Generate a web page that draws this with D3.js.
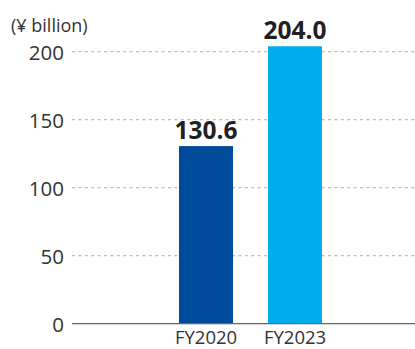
<!DOCTYPE html>
<html><head><meta charset="utf-8">
<script src="https://cdn.jsdelivr.net/npm/d3@7"></script>
<style>body{margin:0;background:#fff}svg{display:block}</style>
</head><body>
<script>
const categories = ["FY2020", "FY2023"];
const values = [130.6, 204.0];
const valueLabels = ["130.6", "204.0"];
const colors = ["#004a9c", "#00acec"];
const yTicks = [0, 50, 100, 150, 200];
const unitLabel = "(¥ billion)";

const W = 415, H = 349;
const svg = d3.select("body").append("svg").attr("width", W).attr("height", H);
const font = "'Open Sans', 'Noto Sans', sans-serif";

const y = d3.scaleLinear().domain([0, 200]).range([323.7, 51.7]);
const x = d3.scaleBand().domain(categories).range([179, 322]).paddingInner(35/89).paddingOuter(0);
const left = 72, right = 415;

// y axis labels
const yAxis = d3.axisLeft(y).tickValues(yTicks).tickSize(0).tickPadding(8);
const gA = svg.append("g").attr("transform", `translate(${left},0)`).call(yAxis);
gA.select(".domain").remove();
gA.selectAll("text").attr("font-family", font).attr("font-size", 20.5).attr("fill", "#333").attr("font-weight", 400).attr("dy", "0.36em");

// grid
svg.append("g").selectAll("line").data(yTicks.filter(d => d > 0)).join("line")
  .attr("x1", left).attr("x2", right)
  .attr("y1", d => y(d)).attr("y2", d => y(d))
  .attr("stroke", "#bdbdbd").attr("stroke-width", 1.3).attr("stroke-dasharray", "3,3.4");

// bars
svg.append("g").selectAll("rect").data(values).join("rect")
  .attr("x", (d, i) => x(categories[i]))
  .attr("width", x.bandwidth())
  .attr("y", d => y(d))
  .attr("height", d => y(0) - y(d))
  .attr("fill", (d, i) => colors[i]);

// baseline
svg.append("line").attr("x1", left).attr("x2", right).attr("y1", y(0)).attr("y2", y(0))
  .attr("stroke", "#666").attr("stroke-width", 1.3);

// value labels
svg.append("g").selectAll("text").data(values).join("text")
  .attr("x", (d, i) => x(categories[i]) + x.bandwidth() / 2)
  .attr("y", d => y(d) - 7.5)
  .attr("text-anchor", "middle")
  .attr("font-family", font).attr("font-weight", 700).attr("font-size", 24.5)
  .attr("fill", "#231f20")
  .text((d, i) => valueLabels[i]);

// x labels
const xAxis = d3.axisBottom(x).tickSize(0).tickPadding(0);
const gX = svg.append("g").attr("transform", `translate(0,${y(0)})`).call(xAxis);
gX.select(".domain").remove();
gX.selectAll("text").attr("font-family", font).attr("font-size", 18.5).attr("fill", "#333")
  .attr("dy", null).attr("y", 20);

// unit label
svg.append("text").attr("x", 11).attr("y", 32)
  .attr("font-family", font).attr("font-size", 18).attr("fill", "#333")
  .text(unitLabel);
</script>
</body></html>
